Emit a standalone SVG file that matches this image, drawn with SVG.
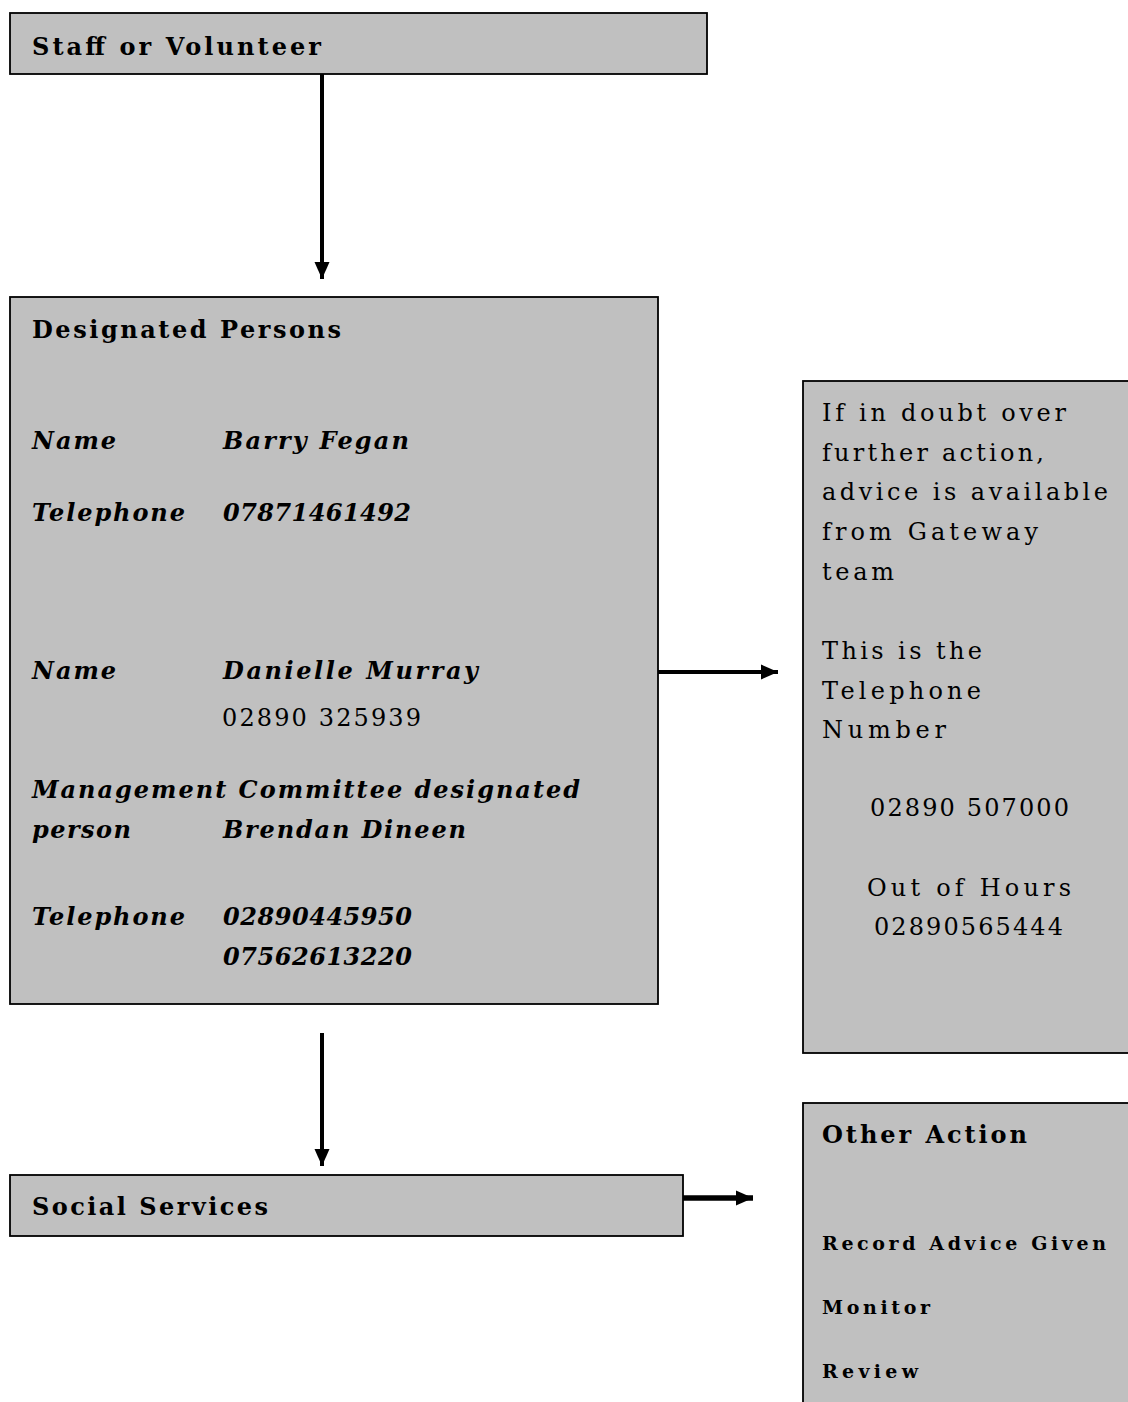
<svg xmlns="http://www.w3.org/2000/svg" width="1128" height="1402" viewBox="0 0 1128 1402">
<style>
.box{fill:#c0c0c0;stroke:#000;stroke-width:1.8}
.h{font-family:"DejaVu Serif","Liberation Serif",serif;font-size:24px;font-weight:bold;fill:#000}
.i{font-family:"DejaVu Serif","Liberation Serif",serif;font-size:24px;font-weight:bold;font-style:italic;fill:#000}
.r{font-family:"DejaVu Serif","Liberation Serif",serif;font-size:24px;fill:#000}
.s{font-family:"DejaVu Serif","Liberation Serif",serif;font-size:19px;font-weight:bold;fill:#000}
.c{stroke:#000;fill:none}
</style>
<defs>
<marker id="ah" markerUnits="userSpaceOnUse" markerWidth="20" markerHeight="20" refX="17" refY="10" orient="auto" viewBox="0 0 20 20">
<path d="M0,2.5 L17,10 L0,17.5 Z" fill="#000"/>
</marker>
</defs>
<g id="connectors">
<line class="c" x1="322" y1="74" x2="322" y2="279" stroke-width="4" marker-end="url(#ah)"/>
<line class="c" x1="658" y1="672" x2="778" y2="672" stroke-width="4" marker-end="url(#ah)"/>
<line class="c" x1="322" y1="1033" x2="322" y2="1166" stroke-width="4" marker-end="url(#ah)"/>
<line class="c" x1="683" y1="1198" x2="753" y2="1198" stroke-width="5.5" marker-end="url(#ah)"/>
</g>
<g id="staff">
<rect class="box" x="10" y="13" width="697" height="61"/>
<text class="h" x="32" y="55" textLength="289" lengthAdjust="spacing">Staff or Volunteer</text>
</g>
<g id="designated">
<rect class="box" x="10" y="297" width="648" height="707"/>
<text class="h" x="32" y="338" textLength="309" lengthAdjust="spacing">Designated Persons</text>
<text class="i" x="32" y="449" textLength="84" lengthAdjust="spacing">Name</text>
<text class="i" x="223" y="449" textLength="186" lengthAdjust="spacing">Barry Fegan</text>
<text class="i" x="32" y="521" textLength="153" lengthAdjust="spacing">Telephone</text>
<text class="i" x="223" y="521" textLength="188" lengthAdjust="spacing">07871461492</text>
<text class="i" x="32" y="679" textLength="84" lengthAdjust="spacing">Name</text>
<text class="i" x="223" y="679" textLength="255" lengthAdjust="spacing">Danielle Murray</text>
<text class="r" x="222" y="726" textLength="199" lengthAdjust="spacing">02890 325939</text>
<text class="i" x="32" y="798" textLength="548" lengthAdjust="spacing">Management Committee designated</text>
<text class="i" x="32" y="838" textLength="99" lengthAdjust="spacing">person</text>
<text class="i" x="223" y="838" textLength="243" lengthAdjust="spacing">Brendan Dineen</text>
<text class="i" x="32" y="925" textLength="153" lengthAdjust="spacing">Telephone</text>
<text class="i" x="223" y="925" textLength="189" lengthAdjust="spacing">02890445950</text>
<text class="i" x="223" y="965" textLength="189" lengthAdjust="spacing">07562613220</text>
</g>
<g id="advice">
<rect class="box" x="803" y="381" width="330" height="672"/>
<text class="r" x="822" y="421" textLength="244" lengthAdjust="spacing">If in doubt over</text>
<text class="r" x="822" y="461" textLength="222" lengthAdjust="spacing">further action,</text>
<text class="r" x="822" y="500" textLength="286" lengthAdjust="spacing">advice is available</text>
<text class="r" x="822" y="540" textLength="216" lengthAdjust="spacing">from Gateway</text>
<text class="r" x="822" y="580" textLength="72" lengthAdjust="spacing">team</text>
<text class="r" x="822" y="659" textLength="160" lengthAdjust="spacing">This is the</text>
<text class="r" x="822" y="699" textLength="159" lengthAdjust="spacing">Telephone</text>
<text class="r" x="822" y="738" textLength="124" lengthAdjust="spacing">Number</text>
<text class="r" x="870" y="816" textLength="199" lengthAdjust="spacing">02890 507000</text>
<text class="r" x="867" y="896" textLength="204" lengthAdjust="spacing">Out of Hours</text>
<text class="r" x="874" y="935" textLength="189" lengthAdjust="spacing">02890565444</text>
</g>
<g id="social">
<rect class="box" x="10" y="1175" width="673" height="61"/>
<text class="h" x="32" y="1215" textLength="236" lengthAdjust="spacing">Social Services</text>
</g>
<g id="other">
<rect class="box" x="803" y="1103" width="330" height="305"/>
<text class="h" x="822" y="1143" textLength="205" lengthAdjust="spacing">Other Action</text>
<text class="s" x="822" y="1250" textLength="284" lengthAdjust="spacing">Record Advice Given</text>
<text class="s" x="822" y="1314" textLength="108" lengthAdjust="spacing">Monitor</text>
<text class="s" x="822" y="1378" textLength="96" lengthAdjust="spacing">Review</text>
</g>
</svg>
